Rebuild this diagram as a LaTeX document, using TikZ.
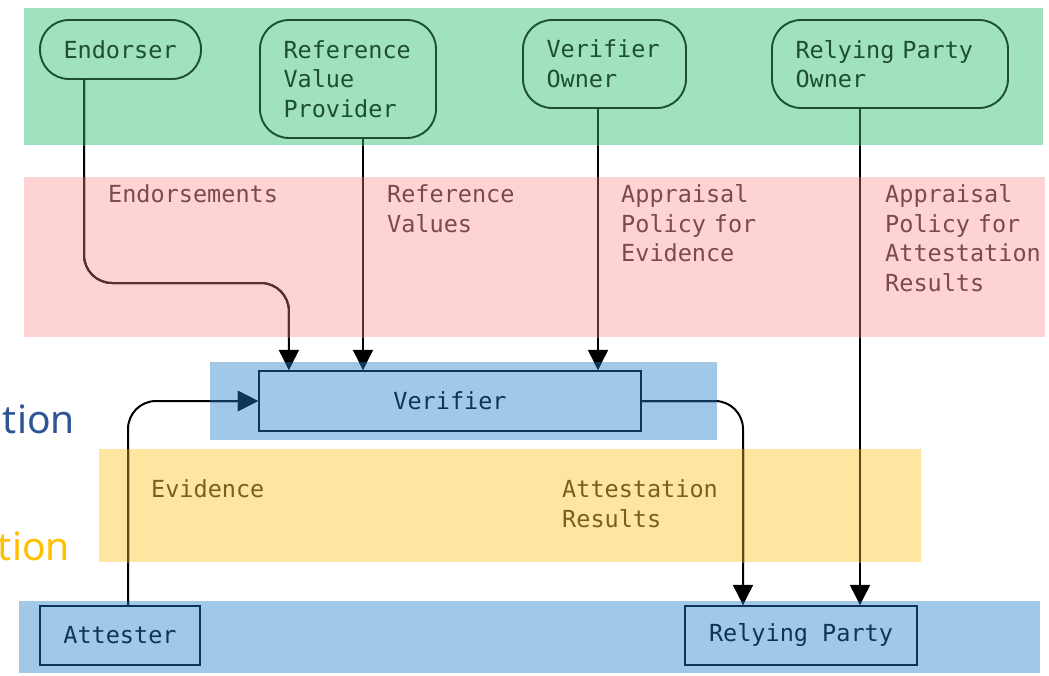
\documentclass[tikz,border=0pt]{standalone}
\usepackage{fontspec}
\setmonofont{DejaVu Sans Mono}
\newfontfamily\tionfont{Noto Sans}
\usetikzlibrary{arrows.meta,calc}

\definecolor{bandgreen}{HTML}{A0E1BF}
\definecolor{bandpink}{HTML}{FDD3D3}
\definecolor{bandblue}{HTML}{A2C8E8}
\definecolor{bandyellow}{HTML}{FEE5A0}
\definecolor{inkgreen}{HTML}{1D4F30}
\definecolor{inkpink}{HTML}{7B4B4B}
\definecolor{linepink}{HTML}{5C2F2F}
\definecolor{inkyellow}{HTML}{79601F}
\definecolor{lineyellow}{HTML}{5E4A14}
\definecolor{inkblue}{HTML}{0E3558}
\definecolor{tionblue}{HTML}{2F5597}
\definecolor{tionyellow}{HTML}{FFC000}

\tikzset{
  mono/.style={font=\ttfamily\fontsize{23.5}{29.6}\selectfont},
  actor/.style={mono, draw=inkgreen, text=inkgreen, line width=1.9pt,
    rounded corners=29pt, align=left, inner xsep=23.5pt, inner ysep=0pt},
  rolebox/.style={mono, draw=inkblue, text=inkblue, line width=2.2pt,
    align=center, inner sep=0pt},
  flowlabel/.style={mono, anchor=base west, align=left, text width=230pt, inner sep=0pt},
  conn/.style={line width=2pt, rounded corners=28pt,
    -{Triangle[width=20pt,length=20pt]}},
  tion/.style={font=\tionfont\fontsize{39}{44}\selectfont, anchor=base east, inner sep=0pt}
}

\newcommand\drawconnectors[1]{%
  \draw[conn,#1] (enout) -- (enout |- ek) -| (verinA);
  \draw[conn,#1] (rvpout) -- (rvpout |- ver.north);
  \draw[conn,#1] (voout) -- (voout |- ver.north);
  \draw[conn,#1] (rpoout) -- (rpoout |- rp.north);
  \draw[conn,#1] (attout) |- (ver.west);
  \draw[conn,#1] (ver.east) -| (rpin);
}

\begin{document}
\begin{tikzpicture}[x=1pt,y=-1pt]
\useasboundingbox (0,0) rectangle (1049,675);
\fill[white] (0,0) rectangle (1049,675);

% bands
\fill[bandgreen] (24,8) rectangle (1043,145);
\fill[bandpink] (24,177) rectangle (1045,337);
\fill[bandblue] (210,362) rectangle (717,440);
\fill[bandyellow] (99,449) rectangle (921,562);
\fill[bandblue] (19,601) rectangle (1040,673);

% cut-off side texts
\node[tion, text=tionblue] (tionA) at (75,433) {tion};
\node[tion, text=tionyellow] (tionB) at (70,560) {tion};

% actors
\node[actor, text width=114pt, minimum height=59pt] (en) at (120.5,49.5) {Endorser};
\node[actor, text width=129pt, minimum height=118pt] (rvp) at (348,79) {Reference\\Value\\Provider};
\node[actor, text width=116pt, minimum height=88pt] (vo) at (604.5,64) {Verifier\\Owner};
\node[actor, text width=189pt, minimum height=88pt] (rpo) at (890,64) {Relying Party\\Owner};

% roles
\node[rolebox, minimum width=382pt, minimum height=60pt] (ver) at (450,401) {Verifier};
\node[rolebox, minimum width=160pt, minimum height=59pt] (att) at (120,635.5) {Attester};
\node[rolebox, minimum width=232pt, minimum height=59pt] (rp) at (801,635.5) {Relying Party};

% connector anchors
\coordinate (enout) at ([xshift=-36.5pt]en.south);
\coordinate (ek) at (0,283);
\coordinate (verinA) at ([xshift=31pt]ver.north west);
\coordinate (rvpout) at ([xshift=15pt]rvp.south);
\coordinate (voout) at ([xshift=-6.5pt]vo.south);
\coordinate (rpoout) at ([xshift=-30pt]rpo.south);
\coordinate (attout) at ([xshift=8pt]att.north);
\coordinate (rpin) at ([xshift=-58pt]rp.north);

% connectors (black), then tinted inside bands
\drawconnectors{black}
\begin{scope}
  \clip (24,8) rectangle (1043,145);
  \drawconnectors{inkgreen}
\end{scope}
\begin{scope}
  \clip (24,177) rectangle (1045,337);
  \drawconnectors{linepink}
\end{scope}
\begin{scope}
  \clip (210,362) rectangle (717,440);
  \drawconnectors{inkblue}
\end{scope}
\begin{scope}
  \clip (99,449) rectangle (921,562);
  \drawconnectors{lineyellow}
\end{scope}
\begin{scope}
  \clip (19,601) rectangle (1040,673);
  \drawconnectors{inkblue}
\end{scope}

% flow labels
\node[flowlabel, text=inkpink] (l1) at (108,202.5) {Endorsements};
\node[flowlabel, text=inkpink] (l2) at (387,202.5) {Reference\\Values};
\node[flowlabel, text=inkpink] (l3) at (621,202.5) {Appraisal\\Policy for\\Evidence};
\node[flowlabel, text=inkpink] (l4) at (885,202.5) {Appraisal\\Policy for\\Attestation\\Results};
\node[flowlabel, text=inkyellow] (l5) at (151,497.5) {Evidence};
\node[flowlabel, text=inkyellow] (l6) at (562,497.5) {Attestation\\Results};
\end{tikzpicture}
\end{document}
